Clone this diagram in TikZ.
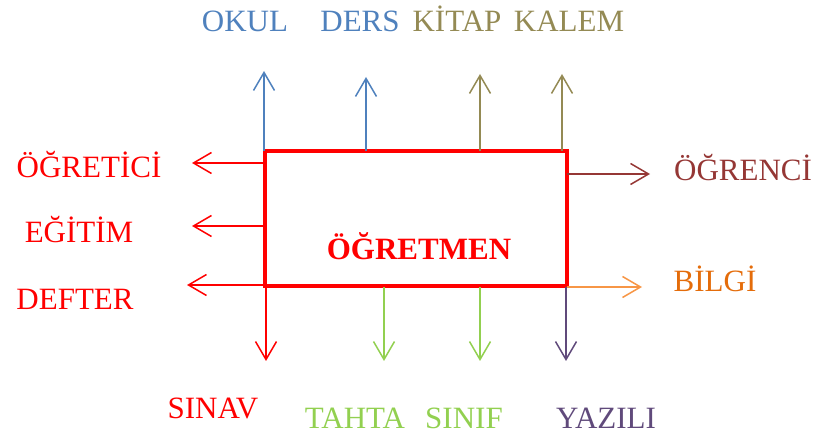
\documentclass[tikz,border=0pt]{standalone}
\usepackage{fontspec}
\setmainfont{Liberation Serif}
\usetikzlibrary{arrows.meta}
\definecolor{cblue}{HTML}{4F81BD}
\definecolor{colive}{HTML}{948A54}
\definecolor{cred}{HTML}{FF0000}
\definecolor{cdred}{HTML}{953735}
\definecolor{corange}{HTML}{E46C0A}
\definecolor{corarrow}{HTML}{F79646}
\definecolor{cgreen}{HTML}{92D050}
\definecolor{cpurple}{HTML}{604A7B}
\begin{document}
\begin{tikzpicture}[x=1pt,y=-1pt,
  lbl/.style={inner sep=0pt,anchor=base,font=\fontsize{31}{36}\selectfont},
  arr/.style={line width=1.5pt,-{Straight Barb[length=18pt,width=21pt,line width=1.5pt]}}]
\useasboundingbox (0,0) rectangle (819,435);
% main box
\node[draw=cred,line width=4pt,minimum width=302pt,minimum height=135pt,inner sep=0pt] (box) at (416,219) {};
\node[lbl,text=cred,font=\fontsize{31}{36}\selectfont\bfseries] (m) at (419,260) {ÖĞRETMEN};
% coordinates for arrow ends
\coordinate (t1s) at (264,151); \coordinate (t1e) at (264,71);
\coordinate (t2s) at (366,151); \coordinate (t2e) at (366,77);
\coordinate (t3s) at (480,151); \coordinate (t3e) at (480,74);
\coordinate (t4s) at (562,151); \coordinate (t4e) at (562,74);
\coordinate (l1s) at (265,163); \coordinate (l1e) at (192,163);
\coordinate (l2s) at (265,226); \coordinate (l2e) at (192,226);
\coordinate (l3s) at (265,285); \coordinate (l3e) at (187,285);
\coordinate (r1s) at (567,174); \coordinate (r1e) at (650,174);
\coordinate (r2s) at (567,287); \coordinate (r2e) at (642,287);
\coordinate (b1s) at (266,287); \coordinate (b1e) at (266,361);
\coordinate (b2s) at (384,287); \coordinate (b2e) at (384,361);
\coordinate (b3s) at (480,287); \coordinate (b3e) at (480,361);
\coordinate (b4s) at (566,287); \coordinate (b4e) at (566,361);
% arrows
\draw[arr,cblue] (t1s) -- (t1e);
\draw[arr,cblue] (t2s) -- (t2e);
\draw[arr,colive] (t3s) -- (t3e);
\draw[arr,colive] (t4s) -- (t4e);
\draw[arr,cred] (l1s) -- (l1e);
\draw[arr,cred] (l2s) -- (l2e);
\draw[arr,cred] (l3s) -- (l3e);
\draw[arr,cdred] (r1s) -- (r1e);
\draw[arr,corarrow] (r2s) -- (r2e);
\draw[arr,cred] (b1s) -- (b1e);
\draw[arr,cgreen] (b2s) -- (b2e);
\draw[arr,cgreen] (b3s) -- (b3e);
\draw[arr,cpurple] (b4s) -- (b4e);
% labels
\node[lbl,text=cblue] (okul) at (245,32) {OKUL};
\node[lbl,text=cblue] (ders) at (360,32) {DERS};
\node[lbl,text=colive] (kitap) at (457,32) {KİTAP};
\node[lbl,text=colive] (kalem) at (569,32) {KALEM};
\node[lbl,text=cred] (ogretici) at (89,178) {ÖĞRETİCİ};
\node[lbl,text=cred] (egitim) at (79,243) {EĞİTİM};
\node[lbl,text=cred] (defter) at (75,310) {DEFTER};
\node[lbl,text=cdred] (ogrenci) at (743,181) {ÖĞRENCİ};
\node[lbl,text=corange] (bilgi) at (715,292) {BİLGİ};
\node[lbl,text=cred] (sinav) at (213,418) {SINAV};
\node[lbl,text=cgreen] (tahta) at (355,428) {TAHTA};
\node[lbl,text=cgreen] (sinif) at (464,428) {SINIF};
\node[lbl,text=cpurple] (yazili) at (606,428) {YAZILI};
\end{tikzpicture}
\end{document}
